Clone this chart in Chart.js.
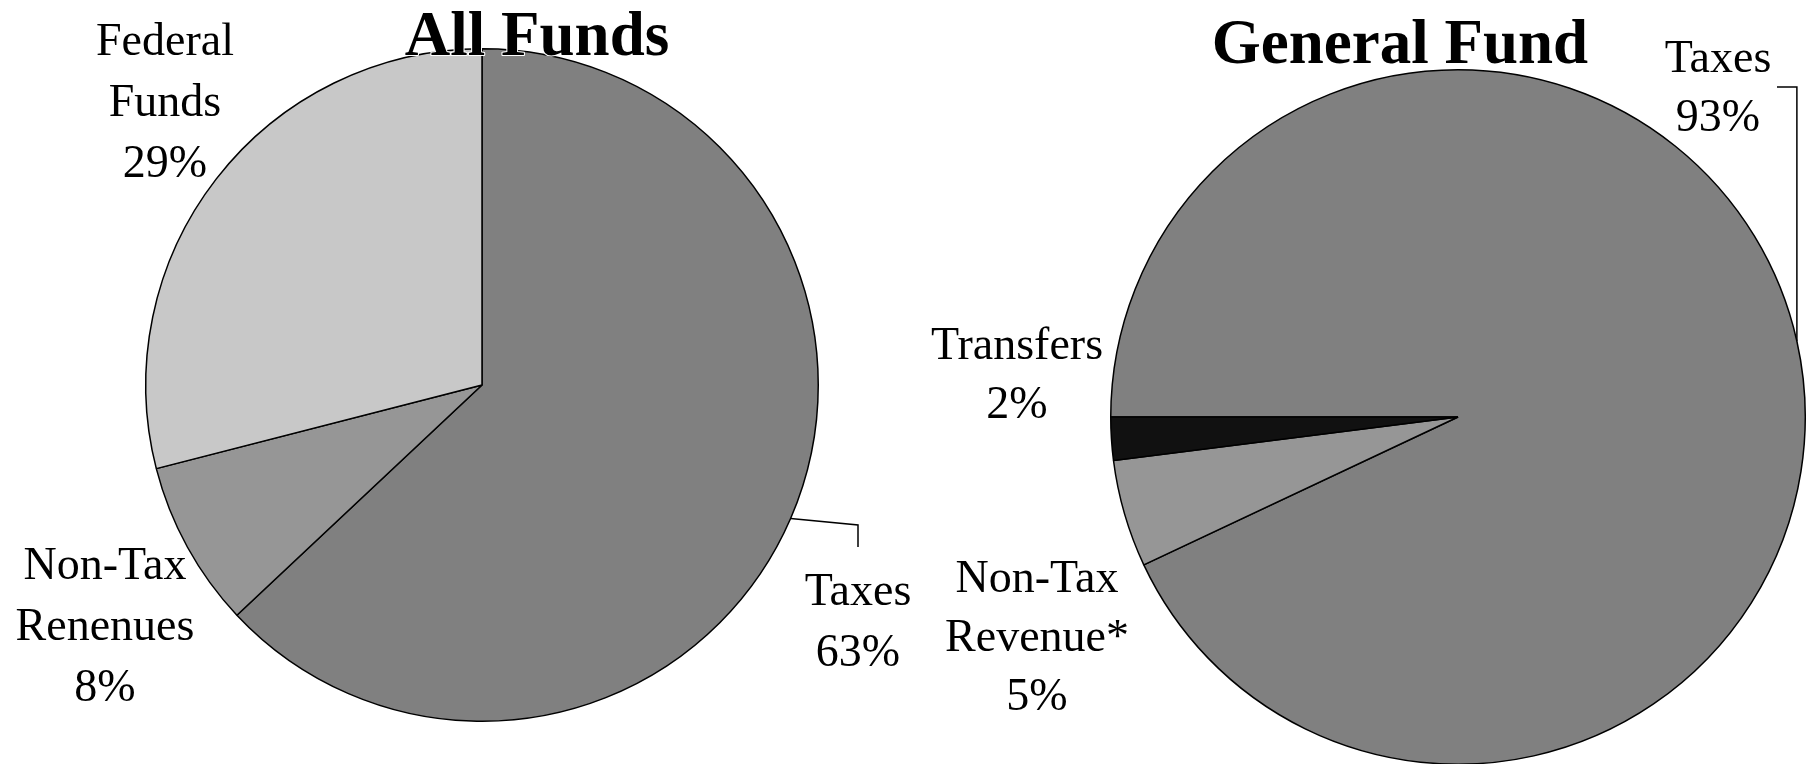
<!DOCTYPE html>
<html>
<head>
<meta charset="utf-8">
<script src="https://cdn.jsdelivr.net/npm/chart.js@4"></script>
<style>
  html, body { margin: 0; padding: 0; background: #ffffff; }
  #wrap { position: relative; width: 1807px; height: 764px; overflow: hidden; background: #ffffff; }
  #wrap canvas { position: absolute; left: 0; top: 0; }
</style>
</head>
<body>
<div id="wrap">
  <canvas id="c1" width="1807" height="800"></canvas>
  <canvas id="c2" width="1807" height="800"></canvas>
</div>
<script>
// ---- data ----
const chartTitles = ['All Funds', 'General Fund'];

const allFundsCategories = ['Taxes', 'Non-Tax Renenues', 'Federal Funds'];
const allFundsLabelLines = [['Taxes'], ['Non-Tax', 'Renenues'], ['Federal', 'Funds']];
const allFundsValues = [63, 8, 29];

const generalFundCategories = ['Taxes', 'Non-Tax Revenue*', 'Transfers'];
const generalFundLabelLines = [['Taxes'], ['Non-Tax', 'Revenue*'], ['Transfers']];
const generalFundValues = [93, 5, 2];

// ---- styles / layout ----
const allFundsColors = ['#808080', '#969696', '#c8c8c8'];
const generalFundColors = ['#808080', '#969696', '#111111'];
const FONT = '"Liberation Serif", "Times New Roman", serif';

function labelPlugin(cfg) {
  return {
    id: 'pieLabels',
    afterDraw(chart) {
      const ctx = chart.ctx;
      const meta = chart.getDatasetMeta(0);
      const ds = chart.data.datasets[0];
      ctx.save();
      // leaders
      ctx.strokeStyle = '#000';
      ctx.lineWidth = 1.5;
      meta.data.forEach((arc, i) => {
        const L = cfg.labels[i];
        if (!L.leader) return;
        const p = arc.getProps(['x', 'y', 'startAngle', 'endAngle', 'outerRadius'], true);
        const mid = (p.startAngle + p.endAngle) / 2;
        let px = p.x + Math.cos(mid) * p.outerRadius;
        let py = p.y + Math.sin(mid) * p.outerRadius;
        ctx.beginPath();
        ctx.moveTo(px, py);
        L.leader.forEach(pt => {
          px = pt.x == null ? px : pt.x;
          py = pt.y == null ? py : pt.y;
          ctx.lineTo(px, py);
        });
        ctx.stroke();
      });
      // labels
      ctx.fillStyle = '#000';
      ctx.textAlign = 'center';
      ctx.textBaseline = 'alphabetic';
      ctx.font = '46px ' + FONT;
      meta.data.forEach((arc, i) => {
        const L = cfg.labels[i];
        const lines = cfg.lines[i].concat([ds.data[i] + '%']);
        lines.forEach((t, k) => ctx.fillText(t, L.x, L.y + k * cfg.lineHeight));
      });
      // title
      ctx.font = 'bold 63px ' + FONT;
      ctx.lineJoin = 'round';
      ctx.strokeStyle = '#ffffff';
      ctx.lineWidth = 2;
      ctx.strokeText(cfg.title, cfg.titleX, cfg.titleY);
      ctx.fillStyle = '#000';
      ctx.fillText(cfg.title, cfg.titleX, cfg.titleY);
      ctx.restore();
    }
  };
}

function makePie(id, categories, values, colors, rotation, padding, plugCfg) {
  return new Chart(document.getElementById(id), {
    type: 'pie',
    data: {
      labels: categories,
      datasets: [{
        data: values,
        backgroundColor: colors,
        borderColor: '#000000',
        borderWidth: 1.5,
        borderAlign: 'center'
      }]
    },
    options: {
      responsive: false,
      animation: false,
      events: [],
      rotation: rotation,
      layout: { padding: padding },
      plugins: { legend: { display: false }, tooltip: { enabled: false }, title: { display: false } }
    },
    plugins: [labelPlugin(plugCfg)]
  });
}

makePie('c1', allFundsCategories, allFundsValues, allFundsColors, 0,
  { left: 145, top: 48, right: 988, bottom: 78 },
  {
    title: chartTitles[0], titleX: 537, titleY: 55,
    lines: allFundsLabelLines, lineHeight: 61,
    labels: [
      { x: 858, y: 605, leader: [{ x: 858, y: 525 }, { x: 858, y: 547 }] },
      { x: 105, y: 579 },
      { x: 165, y: 55 }
    ]
  });

makePie('c2', generalFundCategories, generalFundValues, generalFundColors, -90,
  { left: 1110, top: 69, right: 1, bottom: 35 },
  {
    title: chartTitles[1], titleX: 1400, titleY: 63,
    lines: generalFundLabelLines, lineHeight: 59,
    labels: [
      { x: 1718, y: 72, leader: [{ x: null, y: 87 }, { x: 1777, y: 87 }] },
      { x: 1037, y: 592 },
      { x: 1017, y: 359 }
    ]
  });
</script>
</body>
</html>
